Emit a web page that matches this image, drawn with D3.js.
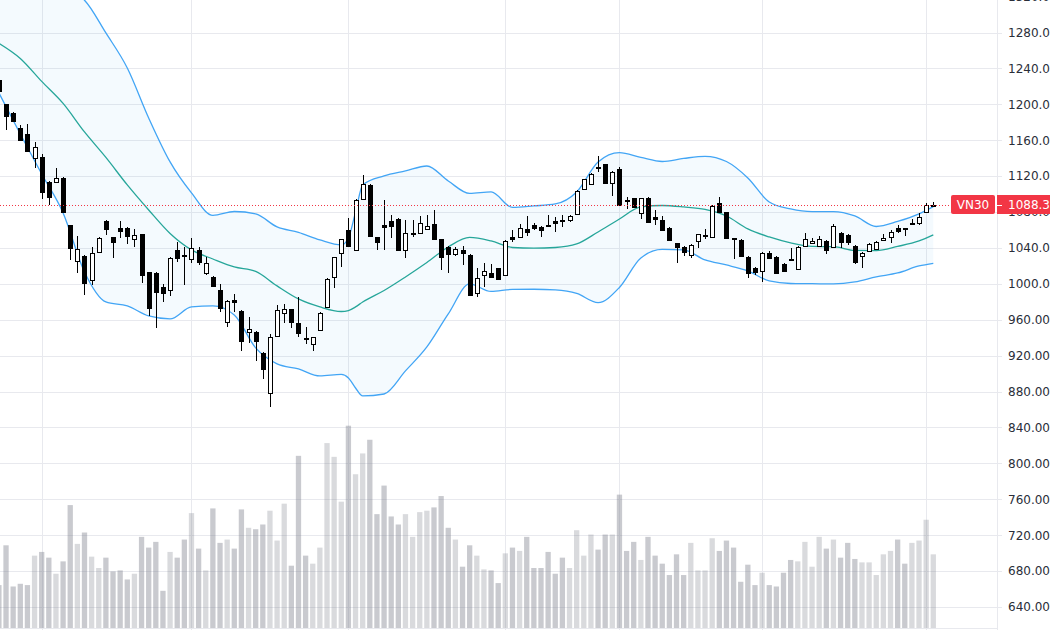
<!DOCTYPE html>
<html>
<head>
<meta charset="utf-8">
<title>VN30</title>
<script src="https://d3js.org/d3.v7.min.js"></script>
<style>
  body { margin: 0; background: #fff; }
  svg { display: block; font-family: "DejaVu Sans", sans-serif; }
  .grid { stroke: #e8e9ee; stroke-width: 1; shape-rendering: crispEdges; }
  .tick-label { font-size: 12px; fill: #2a2e39; }
</style>
</head>
<body>
<div id="chart"></div>
<script>
// OHLC per bar (bar 0 is cut off at the left edge)
const opens = [1227.1,1200.1,1190.0,1174.0,1167.0,1140.2,1141.7,1113.5,1113.8,1117.6,
  1065.6,1025.8,1031.1,1004.3,1035.2,1070.4,1051.9,1061.9,1061.9,1049.7,
  1055.2,1012.9,1012.5,996.2,993.2,1037.8,1032.2,1028.1,1037.8,1012.5,
  1008.0,993.2,957.9,982.1,970.1,946.7,946.1,922.7,878.1,942.3,
  967.2,971.7,956.1,939.7,933.0,948.6,974.6,1008.0,1034.7,1060.0,
  1037.8,1094.2,1110.2,1051.9,1065.6,1070.4,1072.3,1037.8,1055.6,1056.4,
  1061.5,1066.7,1049.7,1041.4,1033.3,1037.8,1032.2,989.5,1009.4,1012.5,
  1017.4,1009.9,1051.9,1051.9,1060.8,1065.6,1063.0,1065.6,1070.1,1071.2,
  1071.2,1077.9,1105.7,1111.0,1130.6,1133.2,1112.1,1127.7,1093.5,1095.4,
  1079.3,1095.4,1074.2,1071.2,1062.6,1045.2,1041.4,1032.2,1047.8,1053.7,
  1052.6,1089.8,1079.5,1051.1,1048.9,1029.6,1018.0,1014.4,1034.1,1030.3,
  1022.2,1027.4,1016.6,1042.2,1045.2,1042.2,1048.1,1041.4,1056.4,1054.5,
  1042.5,1031.1,1036.6,1038.9,1048.9,1052.6,1061.9,1061.9,1067.5,1067.5,
  1080.4,1087.6];
const highs = [1229.4,1200.4,1191.2,1177.0,1177.8,1158.4,1144.7,1115.0,1129.4,1118.5,
  1066.0,1053.4,1032.0,1040.8,1052.0,1071.0,1052.5,1070.1,1063.7,1060.8,
  1056.0,1013.5,1013.0,999.5,1029.5,1046.3,1041.4,1050.8,1040.8,1029.6,
  1008.8,999.5,982.1,988.7,971.0,963.5,947.0,924.0,944.2,976.5,
  977.6,972.5,985.7,952.3,941.0,968.5,1006.2,1030.2,1050.3,1073.1,
  1094.5,1121.3,1111.0,1052.5,1093.5,1076.7,1073.0,1071.2,1071.2,1075.6,
  1076.7,1082.3,1050.5,1042.0,1041.4,1042.2,1033.0,1017.4,1023.3,1021.6,
  1018.0,1049.0,1060.0,1066.7,1075.6,1068.2,1064.5,1076.7,1074.2,1076.7,
  1076.4,1104.5,1117.0,1123.0,1142.5,1134.0,1125.5,1130.6,1097.1,1096.0,
  1096.0,1096.5,1082.3,1075.6,1063.0,1046.0,1042.0,1044.0,1056.0,1060.8,
  1088.0,1096.5,1080.0,1051.5,1049.7,1030.5,1019.0,1035.5,1037.0,1031.0,
  1023.0,1039.7,1042.0,1057.0,1051.5,1053.4,1049.0,1066.7,1058.1,1055.0,
  1043.0,1035.5,1045.9,1047.8,1055.2,1060.0,1065.6,1062.5,1072.0,1079.0,
  1089.8,1090.9];
const lows = [1212.7,1171.4,1180.7,1159.0,1147.0,1128.8,1094.2,1087.9,1112.1,1078.6,
  1026.6,1011.8,987.6,998.8,1034.0,1054.5,1028.5,1050.8,1044.4,1040.8,
  1001.3,964.2,950.5,980.2,986.5,1024.7,998.8,1022.9,1021.0,1009.9,
  996.9,969.0,952.3,969.0,925.2,933.8,914.1,893.7,863.2,941.0,
  956.1,950.5,941.2,933.0,925.2,948.0,973.5,995.1,1018.5,1041.5,
  1036.5,1093.5,1052.0,1037.8,1037.8,1050.8,1037.0,1028.5,1052.6,1055.5,
  1060.0,1049.0,1015.5,1011.8,1031.1,1021.0,986.5,985.1,996.9,1007.0,
  1004.0,1009.0,1047.0,1051.0,1053.7,1060.0,1052.6,1063.7,1058.1,1063.7,
  1069.3,1077.0,1104.6,1110.0,1125.0,1112.0,1097.9,1087.0,1083.1,1085.0,
  1072.3,1068.5,1065.6,1059.0,1048.0,1023.6,1031.1,1028.5,1039.7,1049.7,
  1052.0,1079.5,1050.0,1027.4,1030.0,1006.2,1009.9,1001.8,1027.5,1011.5,
  1013.5,1026.0,1016.0,1041.5,1044.5,1041.5,1033.3,1040.5,1039.7,1043.3,
  1022.2,1017.4,1036.0,1038.0,1048.0,1045.9,1057.0,1053.4,1065.6,1065.6,
  1080.0,1086.8];
const closes = [1215.2,1187.0,1181.8,1160.3,1148.0,1152.2,1102.0,1097.1,1117.6,1080.4,
  1039.7,1038.9,1001.3,1034.7,1051.5,1061.2,1047.0,1058.9,1053.7,1054.5,
  1009.9,972.8,991.3,989.5,1029.2,1029.2,1031.1,1039.7,1024.7,1023.6,
  997.7,972.8,980.9,980.2,936.7,949.8,936.7,905.2,940.5,970.9,
  971.7,957.2,945.6,938.6,940.5,967.9,1005.1,1029.6,1049.7,1042.5,
  1093.5,1111.3,1053.4,1047.0,1063.0,1064.5,1037.8,1056.4,1056.4,1068.2,
  1064.5,1049.7,1029.6,1033.3,1038.5,1034.7,987.6,1006.9,1014.4,1008.0,
  1004.9,1048.1,1049.7,1061.9,1058.1,1061.9,1060.0,1064.8,1068.2,1070.4,
  1075.6,1103.8,1116.5,1122.1,1129.9,1112.7,1125.0,1087.9,1092.3,1086.0,
  1095.4,1069.3,1072.0,1060.0,1048.9,1040.8,1035.9,1043.3,1055.2,1054.5,
  1087.1,1080.4,1051.1,1050.0,1031.1,1011.8,1013.6,1034.7,1028.5,1012.5,
  1014.4,1026.6,1041.4,1049.7,1047.8,1049.7,1037.8,1064.5,1047.0,1047.0,
  1024.7,1034.7,1044.1,1046.3,1051.5,1057.5,1059.3,1061.2,1068.2,1074.2,
  1087.9,1088.34];
const volumes = [42.7,82.3,41.3,44,42.7,72,75.7,70,54,66.3,
  122.3,83.7,95,71,59.7,70,56.3,57.3,48.3,54,
  90.7,80,85.7,37,75.7,70,88,114.3,79,57.3,
  119,84.7,88,79,118,99.7,98.3,103,116.7,87,
  123.7,62,171.3,72,64,80,184,170.3,125.7,201.3,
  153,173.7,187.3,113.3,141.7,111,103,113.3,90.7,115.3,
  116.7,120,131.3,99.7,88,61,82.3,72,58.3,57.3,
  44.7,74.3,80,76.7,90.7,59.7,59.7,75.7,54,70,
  59.7,97.3,72,93,78,93,93,132.7,76.7,85.7,
  67.7,90.7,72,64,52.7,73.3,52.7,84.7,57.3,57.3,
  89.3,76.7,87,80,46,63,42.7,55,42.7,41.3,
  55,67.7,66.3,85.7,61,90.7,79,88,70,84.7,
  68.7,65.3,65.3,52.7,73.3,76.7,88,64,84.7,87,
  107.7,73.3];

// Bollinger bands read at sampled bars
const bandIdx = [0,3,6,9,12,15,18,21,24,27,30,33,36,39,42,45,48,49,50,51,54,57,60,63,66,69,
  72,75,78,81,84,87,90,93,96,99,102,105,108,111,114,117,120,123,126,129,131];
const bandUpper = [1325.0,1331.0,1333.0,1328.0,1316.0,1279.5,1240.5,1184.8,1135.8,1101.3,1076.2,1080.6,
  1077.9,1063.4,1057.3,1048.9,1043.3,1051.1,1080.1,1110.2,1120.2,1125.8,1131.3,1114.6,1100.7,1102.4,
  1085.1,1086.8,1089.0,1102.4,1135.8,1146.2,1140.8,1136.3,1139.7,1142.1,1136.3,1118.0,1091.2,1083.4,
  1080.4,1080.4,1075.6,1063.9,1069.5,1077.9,1086.0];
const bandMid = [1268.0,1251.1,1225.5,1201.0,1169.2,1140.8,1110.2,1082.3,1056.1,1037.8,1027.7,1018.8,
  1013.8,997.7,983.2,974.3,969.2,970.3,974.3,979.8,992.6,1007.7,1023.8,1041.1,1051.7,1047.8,
  1040.5,1039.7,1040.5,1044.4,1057.8,1072.3,1085.7,1087.3,1085.7,1082.9,1075.6,1061.2,1052.2,1045.6,
  1041.7,1041.4,1037.2,1037.0,1041.7,1047.8,1054.5];
const bandLower = [1212.7,1167.0,1122.4,1079.0,1013.2,979.8,975.4,964.2,960.9,974.3,975.4,965.3,
  928.6,910.8,905.2,897.4,899.1,895.2,884.0,875.1,877.3,903.0,929.7,966.5,999.9,991.5,
  993.8,994.0,993.2,989.3,979.0,996.0,1028.8,1038.3,1037.8,1026.6,1021.0,1014.4,1003.2,1000.4,
  1000.2,999.9,1002.1,1007.7,1012.1,1019.9,1022.9];

const priceTicks = [640,680,720,760,800,840,880,920,960,1000,1040,1080,1120,1160,1200,1240,1280,1320];
const gridIdx = [6, 27, 49, 71, 87, 107, 130];
const symbol = "VN30";
const lastPrice = 1088.34;

const width = 1050, height = 630;
const plotRight = 997;

const svg = d3.select("#chart").append("svg")
  .attr("width", width)
  .attr("height", height);

const x = d3.scaleLinear().domain([0, 131]).range([-1.1, 933.3]);
const y = d3.scaleLinear().domain([640, 1280]).range([607, 32.5]);
const yVol = d3.scaleLinear().domain([0, 200]).range([628, 427]);

svg.append("clipPath").attr("id", "plot")
  .append("rect").attr("x", 0).attr("y", 0).attr("width", plotRight).attr("height", height);

// grid
const grid = svg.append("g");
grid.selectAll("line.h").data(priceTicks).enter().append("line")
  .attr("class", "grid")
  .attr("x1", 0).attr("x2", plotRight)
  .attr("y1", d => Math.round(y(d)) + 0.5).attr("y2", d => Math.round(y(d)) + 0.5);
grid.selectAll("line.v").data(gridIdx).enter().append("line")
  .attr("class", "grid")
  .attr("x1", d => Math.round(x(d)) + 0.5).attr("x2", d => Math.round(x(d)) + 0.5)
  .attr("y1", 0).attr("y2", height);
grid.append("line").attr("class", "grid")
  .attr("x1", 0).attr("x2", plotRight).attr("y1", 628.5).attr("y2", 628.5);

const bars = d3.range(opens.length).map(i => ({
  i, o: opens[i], h: highs[i], l: lows[i], c: closes[i], v: volumes[i]
}));

const plot = svg.append("g").attr("clip-path", "url(#plot)");

// volume
plot.selectAll("rect.vol").data(bars).enter().append("rect")
  .attr("x", d => x(d.i) - 2.65)
  .attr("width", 5.3)
  .attr("y", d => yVol(d.v))
  .attr("height", d => yVol(0) - yVol(d.v))
  .attr("fill", d => d.c < d.o ? "rgba(120,123,134,0.40)" : "rgba(120,123,134,0.28)");

// bollinger bands
const band = bandIdx.map((k, j) => ({ k, u: bandUpper[j], m: bandMid[j], l: bandLower[j] }));
const curve = d3.curveMonotoneX;
plot.append("path").datum(band)
  .attr("fill", "rgba(33,150,243,0.05)")
  .attr("d", d3.area().curve(curve).x(d => x(d.k)).y0(d => y(d.l)).y1(d => y(d.u)));
plot.append("path").datum(band)
  .attr("fill", "none").attr("stroke", "#26a69a").attr("stroke-width", 1.3)
  .attr("d", d3.line().curve(curve).x(d => x(d.k)).y(d => y(d.m)));
[["u", "#42a5f5"], ["l", "#42a5f5"]].forEach(([key, col]) => {
  plot.append("path").datum(band)
    .attr("fill", "none").attr("stroke", col).attr("stroke-width", 1.3)
    .attr("d", d3.line().curve(curve).x(d => x(d.k)).y(d => y(d[key])));
});

// candles
const candle = plot.selectAll("g.candle").data(bars).enter().append("g");
candle.append("line")
  .attr("x1", d => Math.round(x(d.i)) + 0.5).attr("x2", d => Math.round(x(d.i)) + 0.5)
  .attr("y1", d => Math.round(y(d.h))).attr("y2", d => Math.round(y(d.l)))
  .attr("stroke", "#000").attr("stroke-width", 1);
candle.append("rect")
  .attr("x", d => Math.round(x(d.i)) - 1.5)
  .attr("width", 4)
  .attr("y", d => Math.round(y(Math.max(d.o, d.c))) + 0.5)
  .attr("height", d => Math.max(1, Math.round(y(Math.min(d.o, d.c))) - Math.round(y(Math.max(d.o, d.c)))))
  .attr("fill", d => d.c < d.o ? "#000" : "#fff")
  .attr("stroke", "#000").attr("stroke-width", 1);

// last price line
const yLast = Math.round(y(lastPrice)) + 0.5;
svg.append("line")
  .attr("x1", 0).attr("x2", 951).attr("y1", yLast).attr("y2", yLast)
  .attr("stroke", "#f23645").attr("stroke-width", 1).attr("stroke-dasharray", "1,2");

// price axis
svg.append("line").attr("class", "grid")
  .attr("x1", plotRight + 0.5).attr("x2", plotRight + 0.5).attr("y1", 0).attr("y2", height);
const axis = svg.append("g");
axis.selectAll("line.tk").data(priceTicks).enter().append("line")
  .attr("class", "grid")
  .attr("x1", plotRight).attr("x2", plotRight + 5)
  .attr("y1", d => Math.round(y(d)) + 0.5).attr("y2", d => Math.round(y(d)) + 0.5);
axis.selectAll("text").data(priceTicks).enter().append("text")
  .attr("class", "tick-label")
  .attr("x", 1008).attr("y", d => y(d))
  .attr("dy", "0.36em")
  .text(d => d3.format(".2f")(d));

// symbol + last price labels
svg.append("rect").attr("x", 951).attr("y", 195).attr("width", 44).attr("height", 19)
  .attr("rx", 2).attr("fill", "#f23645");
svg.append("text").attr("x", 973).attr("y", y(lastPrice)).attr("dy", "0.36em")
  .attr("text-anchor", "middle").attr("fill", "#fff").style("font-size", "12px")
  .text(symbol);
svg.append("rect").attr("x", plotRight).attr("y", 195).attr("width", 60).attr("height", 19)
  .attr("fill", "#f23645");
svg.append("line").attr("x1", plotRight).attr("x2", plotRight + 5)
  .attr("y1", yLast).attr("y2", yLast).attr("stroke", "#fff");
svg.append("text").attr("x", 1008).attr("y", y(lastPrice)).attr("dy", "0.36em")
  .attr("fill", "#fff").style("font-size", "12px")
  .text(d3.format(".2f")(lastPrice));
</script>
</body>
</html>
